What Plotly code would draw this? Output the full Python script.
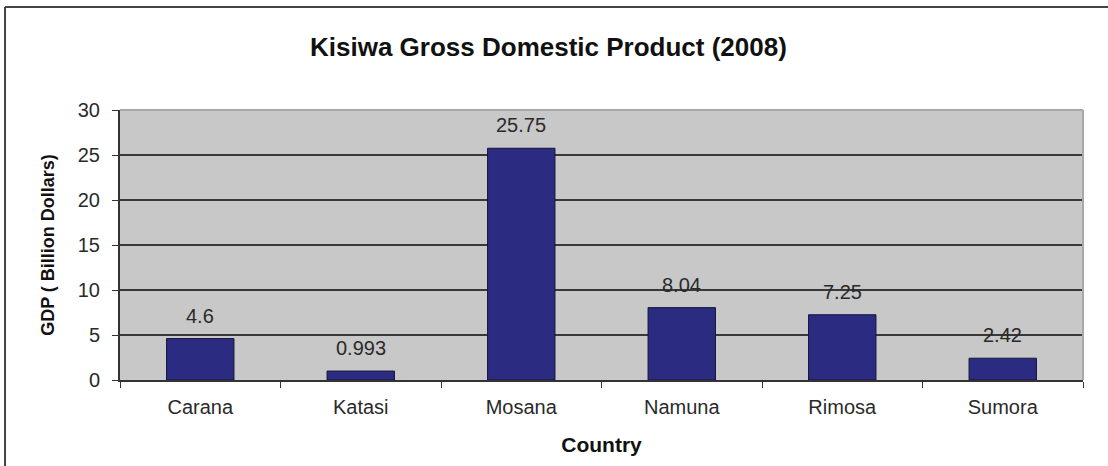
import plotly.graph_objects as go

# GDP by country, billions of dollars
countries = ["Carana", "Katasi", "Mosana", "Namuna", "Rimosa", "Sumora"]
gdp = [4.6, 0.993, 25.75, 8.04, 7.25, 2.42]
gdp_labels = ["4.6", "0.993", "25.75", "8.04", "7.25", "2.42"]
y_ticks = [0, 5, 10, 15, 20, 25, 30]

FONT = "Liberation Sans, Arial, sans-serif"
TXT = "#2a2a2a"

fig = go.Figure()
fig.add_trace(go.Bar(
    x=countries,
    y=gdp,
    width=0.42,
    marker=dict(color="#2b2b82", line=dict(color="#15153a", width=1)),
    hoverinfo="x+y",
))

# value labels above each bar
for c, v, t in zip(countries, gdp, gdp_labels):
    fig.add_annotation(
        x=c, y=v, text=t, showarrow=False, yanchor="bottom", yshift=10,
        font=dict(family=FONT, size=20, color=TXT),
    )

fig.update_layout(
    width=1108, height=466,
    margin=dict(l=120, r=25, t=110, b=86),
    paper_bgcolor="white",
    plot_bgcolor="#c8c8c8",
    showlegend=False,
    title=dict(
        text="<b>Kisiwa Gross Domestic Product (2008)</b>",
        x=0.495, xanchor="center", y=0.9, yanchor="middle",
        font=dict(family=FONT, size=26, color="#111111"),
    ),
    xaxis=dict(
        tickson="boundaries", ticks="outside", ticklen=6, tickcolor="#333333",
        showline=True, linecolor="#333333", linewidth=2,
        mirror=False, showgrid=False, ticklabelstandoff=8,
        tickfont=dict(family=FONT, size=20, color=TXT),
        title=dict(text="<b>Country</b>", standoff=20,
                   font=dict(family=FONT, size=21, color="#111111")),
    ),
    yaxis=dict(
        range=[0, 30], tickvals=y_ticks, ticks="outside", ticklen=6,
        tickcolor="#333333", showline=True, linecolor="#333333", linewidth=2,
        showgrid=True, gridcolor="#383838", gridwidth=2,
        zeroline=False, ticklabelstandoff=8,
        tickfont=dict(family=FONT, size=20, color=TXT),
        title=dict(text="<b>GDP ( Billion Dollars)</b>", standoff=18,
                   font=dict(family=FONT, size=18, color="#111111")),
    ),
)

# light border along the top and right of the plotting area
fig.add_shape(type="line", xref="paper", yref="paper", x0=0, x1=1, y0=1, y1=1,
              line=dict(color="#a8a8a8", width=2))
fig.add_shape(type="line", xref="paper", yref="paper", x0=1, x1=1, y0=0, y1=1,
              line=dict(color="#a8a8a8", width=2))

# outer chart frame (top and left edges)
fig.add_shape(type="line", xref="paper", yref="paper",
              x0=-0.1194, x1=1.2, y0=1.3815, y1=1.3815,
              line=dict(color="#444444", width=2))
fig.add_shape(type="line", xref="paper", yref="paper",
              x0=-0.1194, x1=-0.1194, y0=-0.5, y1=1.3815,
              line=dict(color="#444444", width=2))

fig.write_html("out.html")
